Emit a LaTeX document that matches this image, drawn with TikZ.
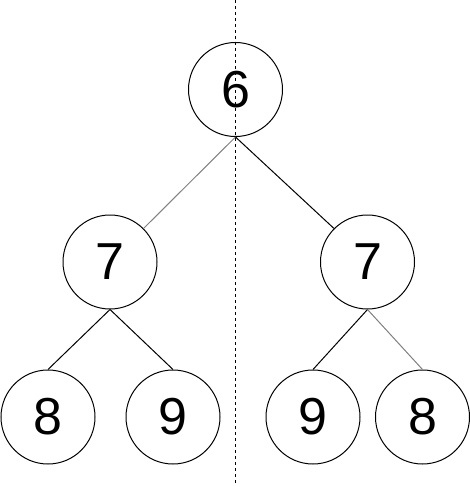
\documentclass[tikz,border=0pt]{standalone}
\usepackage{fontspec}
\setmainfont{Liberation Sans}
\begin{document}
\begin{tikzpicture}[x=1pt,y=-1pt,
  vnode/.style={circle,draw=black,line width=1pt,minimum size=94pt,inner sep=0pt,font=\fontsize{52}{60}\selectfont},
  edge/.style={draw=black,line width=1pt},
  grayedge/.style={draw=gray,line width=1pt}]
\useasboundingbox (0,0) rectangle (470,487);
\node[vnode] (root) at (235.5,89.5) {6};
\node[vnode] (l7) at (110,262) {7};
\node[vnode] (r7) at (367.5,262) {7};
\node[vnode] (l8) at (48,417) {8};
\node[vnode] (l9) at (173,417) {9};
\node[vnode] (r9) at (313,417) {9};
\node[vnode] (r8) at (422.5,417) {8};
\draw[grayedge] (root.south) -- (l7.45);
\draw[edge] (root.south) -- (r7.135);
\draw[edge] (l7.south) -- (l8.north);
\draw[edge] (l7.south) -- (l9.north);
\draw[edge] (r7.south) -- (r9.north);
\draw[grayedge] (r7.south) -- (r8.north);
\coordinate (dtop) at (235,0);
\coordinate (dbot) at (235,484);
\draw[line width=1pt,dash pattern=on 3pt off 3pt] (dtop) -- (dbot);
\end{tikzpicture}
\end{document}
